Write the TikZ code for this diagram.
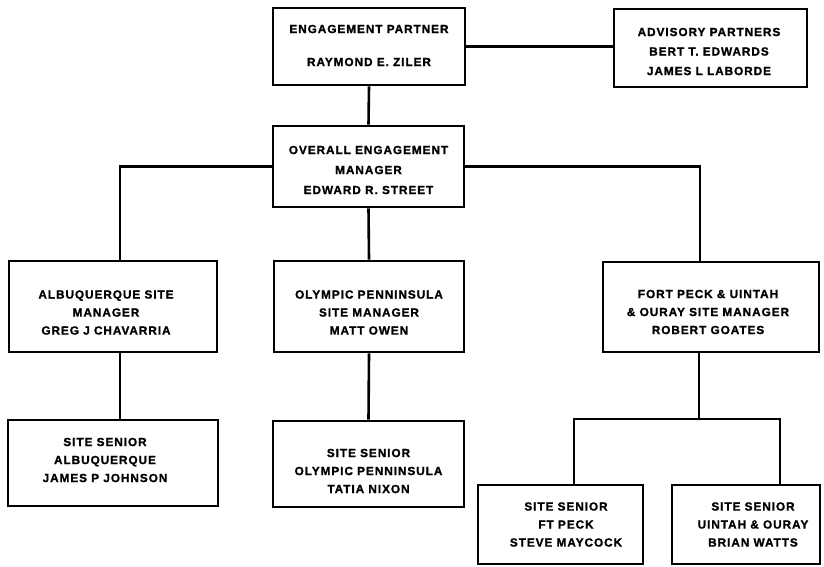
\documentclass[tikz,border=0pt]{standalone}
\usepackage{fontspec}
\newfontfamily\orgfont{Liberation Sans}[LetterSpace=8, BoldFeatures={FakeBold=1.2}]
\begin{document}
\begin{tikzpicture}[x=1pt,y=-1pt,
  box/.style={draw, line width=2.8pt, inner sep=0pt},
  lbl/.style={align=center, inner sep=0pt, font=\orgfont\bfseries\fontsize{11.8}{18}\selectfont},
  link/.style={line width=2.6pt}]
\useasboundingbox (0,0) rectangle (824,566);
% boxes
\node[box, minimum width=192pt, minimum height=77pt] (ep)  at (369,46.5) {};
\node[box, minimum width=193pt, minimum height=78pt] (adv) at (710.5,48) {};
\node[box, minimum width=191pt, minimum height=81pt] (ovr) at (368.5,166.5) {};
\node[box, minimum width=208pt, minimum height=91pt] (alb) at (113,306.5) {};
\node[box, minimum width=190pt, minimum height=91pt] (olm) at (369,306.5) {};
\node[box, minimum width=216pt, minimum height=90pt] (fpm) at (711,307) {};
\node[box, minimum width=210pt, minimum height=86pt] (als) at (113,463) {};
\node[box, minimum width=191pt, minimum height=86pt] (ols) at (368.5,464) {};
\node[box, minimum width=165pt, minimum height=79pt] (fps) at (560.5,524.5) {};
\node[box, minimum width=148pt, minimum height=79pt] (uos) at (746,524.5) {};
% labels
\node[lbl] (ept) at ([yshift=1pt]ep.center) {ENGAGEMENT PARTNER\\[15pt]RAYMOND E. ZILER};
\node[lbl] (advt) at ([xshift=-1.5pt,yshift=-3.5pt]adv.center) {ADVISORY PARTNERS\\[1.5pt]BERT T. EDWARDS\\[1.5pt]JAMES L LABORDE};
\node[lbl] (ovrt) at ([yshift=-3.5pt]ovr.center) {OVERALL ENGAGEMENT\\[2pt]MANAGER\\[2pt]EDWARD R. STREET};
\node[lbl] (albt) at ([xshift=-7pt,yshift=-6pt]alb.center) {ALBUQUERQUE SITE\\MANAGER\\GREG J CHAVARRIA};
\node[lbl] (olmt) at ([yshift=-6pt]olm.center) {OLYMPIC PENNINSULA\\SITE MANAGER\\MATT OWEN};
\node[lbl] (fpmt) at ([xshift=-3pt,yshift=-5pt]fpm.center) {FORT PECK \& UINTAH\\\& OURAY SITE MANAGER\\ROBERT GOATES};
\node[lbl] (alst) at ([xshift=-8pt,yshift=3pt]als.center) {SITE SENIOR\\ALBUQUERQUE\\JAMES P JOHNSON};
\node[lbl] (olst) at ([yshift=-7pt]ols.center) {SITE SENIOR\\OLYMPIC PENNINSULA\\TATIA NIXON};
\node[lbl] (fpst) at ([xshift=5.5pt]fps.center) {SITE SENIOR\\FT PECK\\STEVE MAYCOCK};
\node[lbl] (uost) at ([xshift=7pt]uos.center) {SITE SENIOR\\UINTAH \& OURAY\\BRIAN WATTS};
% connectors
\coordinate (fpj) at (699,419);
\draw[link] (ep.east) -- (ep.east -| adv.west);
\draw[link] (ep.south) -- (ovr.north);
\draw[link] (ovr.west) -| ([xshift=7pt]alb.north);
\draw[link] (ovr.south) -- (olm.north);
\draw[link] (ovr.east) -| ([xshift=-11pt]fpm.north);
\draw[link] ([xshift=7pt]alb.south) -- ([xshift=7pt]als.north);
\draw[link] (olm.south) -- (ols.north);
\draw[link] ([xshift=-12pt]fpm.south) -- (fpj);
\draw[link] ([xshift=13.5pt]fps.north) |- (fpj) -| ([xshift=34pt]uos.north);
\end{tikzpicture}
\end{document}
